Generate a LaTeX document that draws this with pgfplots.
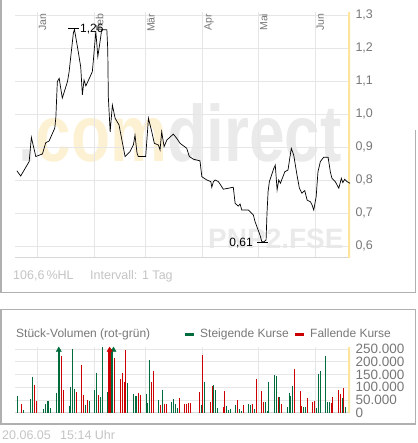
\documentclass[border=0pt]{standalone}
\usepackage{pgfplots}
\pgfplotsset{compat=1.18}
\usepackage{fontspec}
\setmainfont{Liberation Sans}
\definecolor{gridc}{HTML}{E6E6E6}
\definecolor{axc}{HTML}{D6D6D6}
\definecolor{yel}{HTML}{FFE49A}
\definecolor{lab}{HTML}{777777}
\definecolor{light}{HTML}{C4C4C4}
\definecolor{framec}{HTML}{B0B0B0}
\definecolor{wmg}{HTML}{EAEAEA}
\definecolor{wmy}{HTML}{FDF1D3}
\definecolor{up}{HTML}{006B3C}
\definecolor{down}{HTML}{CC0000}
\newcommand{\fs}[1]{\fontsize{#1}{#1}\selectfont}
\begin{document}
\begin{tikzpicture}
\useasboundingbox (0pt,0pt) rectangle (417pt,443pt);
% watermarks
\node[anchor=base west, inner sep=0pt] at (18pt,281pt) {\fs{80}\bfseries\scalebox{0.8}[1]{\textcolor{wmg}{.}\textcolor{wmy}{com}\textcolor{wmg}{direct}}};
\node[anchor=base west, inner sep=0pt, text=wmg] at (208pt,194pt) {\fs{28}\bfseries PNP2.FSE};

% ---------------- price panel ----------------
\begin{axis}[
  at={(15pt,185pt)}, anchor=south west, scale only axis,
  width=335pt, height=246pt,
  xmin=-12, xmax=170, ymin=0.5636, ymax=1.309,
  axis line style={draw=none},
  major tick length=0pt,
  xtick={0,31,59,90,120,151},
  xticklabels={Jan,Feb,Mär,Apr,Mai,Jun},
  xticklabel pos=upper,
  x tick label style={rotate=90, anchor=north east, inner sep=1.5pt, font=\fs{10.5}, text=lab},
  ytick={0.6,0.7,0.8,0.9,1.0,1.1,1.2,1.3},
  yticklabel pos=right,
  y tick label style={font=\fs{12.5}, text=lab, xshift=2pt},
  grid=major, grid style={gridc, line width=0.8pt},
  /pgf/number format/use comma,
  /pgf/number format/fixed,
  /pgf/number format/fixed zerofill,
  /pgf/number format/precision=1,
  /pgf/number format/assume math mode=true,
]
\draw[axc, line width=1pt] (rel axis cs:0,0) -- (rel axis cs:1.006,0);
\draw[yel, line width=3.5pt] (rel axis cs:1,0) -- (rel axis cs:1,1);
\addplot[black, line width=0.7pt] coordinates {
(-11.0,0.828) (-8.9,0.812) (-4.3,0.856) (-3.1,0.929) (-0.7,0.871) (2.9,0.879)
(4.7,0.913) (6.5,0.918) (9.6,0.957) (10.2,0.990) (11.0,1.098) (12.0,1.108)
(13.7,1.048) (16.5,1.098) (17.4,1.128) (19.7,1.245) (20.3,1.256) (21.9,1.204)
(23.7,1.143) (24.6,1.058) (25.5,1.103) (26.5,1.085) (30.0,1.128) (30.6,1.164)
(31.9,1.250) (33.0,1.174) (34.2,1.219) (35.1,1.255) (37.9,1.255) (38.4,1.194)
(38.7,1.052) (39.7,0.946) (40.9,1.027) (42.4,0.987) (44.5,0.967) (47.8,0.871)
(50.5,0.886) (52.3,0.906) (53.2,0.936) (54.3,0.881) (55.0,0.871) (59.0,0.871)
(60.5,0.987) (62.3,0.946) (63.7,0.911) (65.9,0.906) (66.8,0.891) (67.7,0.946)
(69.0,0.901) (70.5,0.921) (74.0,0.939) (75.9,0.926) (77.7,0.911) (81.3,0.896)
(82.7,0.871) (84.9,0.863) (88.5,0.858) (89.5,0.810) (92.2,0.800) (94.4,0.795)
(94.9,0.778) (95.8,0.795) (96.7,0.800) (98.5,0.795) (101.2,0.772) (103.9,0.775)
(106.6,0.778) (107.6,0.729) (109.3,0.721) (110.3,0.727) (111.2,0.709) (114.8,0.709)
(116.6,0.699) (117.5,0.694) (118.4,0.674) (121.1,0.633) (122.1,0.613) (123.3,0.613)
(124.4,0.618) (124.9,0.699) (125.5,0.765) (126.2,0.795) (128.6,0.835) (129.4,0.845)
(130.4,0.770) (131.3,0.800) (132.2,0.790) (134.6,0.825) (136.3,0.830) (138.1,0.896)
(139.4,0.876) (141.2,0.815) (142.5,0.775) (143.9,0.760) (145.4,0.768) (146.7,0.739)
(148.5,0.734) (149.4,0.724) (150.3,0.709) (151.6,0.749) (152.6,0.825) (153.9,0.856)
(155.7,0.869) (158.1,0.869) (159.3,0.825) (160.2,0.805) (162.0,0.795) (163.9,0.775)
(165.3,0.805) (166.1,0.792) (167.1,0.802) (168.4,0.795) (170.0,0.790)
};
% high / low markers
\addplot[black, line width=0.7pt] coordinates {(16.8,1.258) (22.8,1.258)};
\node[anchor=west, inner sep=0pt, font=\fs{12}] at (axis cs:23.3,1.258) {1,26};
\addplot[black, line width=0.7pt] coordinates {(119.6,0.61) (125.6,0.61)};
\node[anchor=east, inner sep=0pt, font=\fs{12}] at (axis cs:117.3,0.61) {0,61};
\end{axis}

% ---------------- volume panel ----------------
\begin{axis}[
  at={(15pt,30.3pt)}, anchor=south west, scale only axis,
  width=335pt, height=65.7pt,
  xmin=-12, xmax=170, ymin=0, ymax=257900,
  axis line style={draw=none},
  major tick length=0pt,
  xtick={0,31,59,90,120,151}, xticklabels={},
  ytick={0,50000,100000,150000,200000,250000},
  yticklabel pos=right,
  scaled y ticks=false,
  y tick label style={font=\fs{13.5}, text=lab, xshift=2pt},
  grid=major, grid style={gridc, line width=0.8pt},
  /pgf/number format/fixed,
  /pgf/number format/1000 sep={.},
  /pgf/number format/assume math mode=true,
]
\draw[axc, line width=1pt] (rel axis cs:0,0) -- (rel axis cs:1.006,0);
\draw[yel, line width=3.5pt] (rel axis cs:1,0) -- (rel axis cs:1,1);
\addplot[ycomb, up, line width=1.4pt] coordinates {
(-10.7,65600) (-7.4,10000) (-3.6,54000) (-2.6,140000) (3.4,16000) (4.5,34000)
(5.6,46000) (6.1,46000) (7.2,18000) (10.5,77000) (11.6,250000) (12.1,250000)
(17.5,26000) (18.1,101000) (19.2,250000) (20.3,93000) (26.2,30000) (28.4,46000)
(31.1,89000) (32.2,156000) (34.4,62000) (35.5,257900) (38.2,81000) (40.4,250000)
(41.1,250000) (49.1,117000) (52.3,73000) (53.4,66000) (53.9,66000) (59.4,73000)
(59.9,37000) (61.0,207000) (65.9,50000) (68.1,89000) (73.0,42000) (74.0,54000)
(75.1,34000) (76.2,18000) (89.2,30000) (90.9,121000) (95.8,109000) (96.9,89000)
(97.9,18000) (102.8,26000) (103.9,10000) (105.0,14000) (107.7,30000) (109.9,14000)
(111.0,7000) (114.8,34000) (115.9,30000) (118.0,14000) (124.0,42000) (125.1,7000)
(125.6,121000) (128.9,148000) (130.0,144000) (131.6,62000) (136.0,22000) (137.1,77000)
(137.6,66000) (138.7,105000) (144.7,22000) (145.7,22000) (151.7,18000) (152.8,152000)
(153.9,164000) (156.6,223000) (157.7,42000) (158.8,42000) (165.8,58000) (167.5,22000)
};
\addplot[ycomb, down, line width=1.4pt] coordinates {
(-8.5,34000) (-1.5,109000) (-0.4,47000) (13.2,223000) (14.3,89000) (21.3,83000)
(24.1,188000) (25.2,68000) (27.3,50000) (33.3,70000) (39.1,250000) (39.8,250000)
(42.0,215000) (45.2,132000) (46.3,156000) (47.4,121000) (48.0,247000) (55.0,77000)
(56.1,70000) (62.1,121000) (63.2,165000) (67.0,30000) (69.1,34000) (70.2,34000)
(77.3,58000) (80.0,34000) (81.1,34000) (82.2,38000) (83.3,38000) (88.2,81000)
(89.8,227000) (94.1,42000) (95.2,105000) (101.2,22000) (101.7,85000) (108.8,50000)
(112.1,30000) (117.0,34000) (119.1,132000) (121.8,85000) (122.9,42000) (131.1,62000)
(132.7,34000) (139.8,172000) (143.0,85000) (143.6,26000) (146.8,58000) (149.6,42000)
(150.6,46000) (159.9,38000) (160.4,62000) (163.7,89000) (164.8,73000) (166.4,97000)
};
% arrows on clipped bars
\addplot[only marks, mark=triangle*, mark size=3pt, up] coordinates {(11.8,246000) (41.5,246000)};
\addplot[only marks, mark=triangle*, mark size=3pt, down] coordinates {(39.4,246000)};
\end{axis}

% ---------------- texts & frames ----------------
\node[anchor=base west, inner sep=0pt, text=light, font=\fs{12.5}] at (13pt,163pt) {106,6\,\%HL};
\node[anchor=base west, inner sep=0pt, text=light, font=\fs{12.5}] at (90pt,163pt) {Intervall: 1 Tag};
\node[anchor=base west, inner sep=0pt, text=light, font=\fs{12.5}] at (2pt,3pt) {20.06.05};
\node[anchor=base west, inner sep=0pt, text=light, font=\fs{12.5}] at (60pt,3pt) {15:14 Uhr};

\node[anchor=base west, inner sep=0pt, text=lab, font=\fs{12}] at (16pt,105pt) {Stück-Volumen (rot-grün)};
\fill[up] (185pt,107pt) rectangle (194pt,110pt);
\node[anchor=base west, inner sep=0pt, text=lab, font=\fs{12}] at (200pt,105pt) {Steigende Kurse};
\fill[down] (295pt,107pt) rectangle (304pt,110pt);
\node[anchor=base west, inner sep=0pt, text=lab, font=\fs{12}] at (310pt,105pt) {Fallende Kurse};

\draw[framec, line width=1.5pt] (0.75pt,443pt) -- (0.75pt,150.5pt) -- (415.5pt,150.5pt) -- (415.5pt,313pt);
\draw[framec, line width=1.5pt] (0.75pt,19pt) rectangle (415.5pt,133.5pt);
\end{tikzpicture}
\end{document}
